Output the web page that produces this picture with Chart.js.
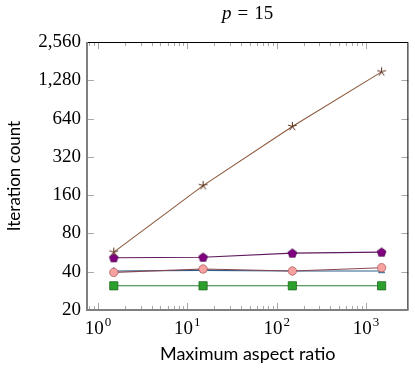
<!DOCTYPE html>
<html>
<head>
<meta charset="utf-8">
<script src="https://cdn.jsdelivr.net/npm/chart.js@4"></script>
<style>
  html, body { margin: 0; padding: 0; background: #fff; }
  #wrap { width: 415px; height: 370px; }
</style>
</head>
<body>
<div id="wrap"><canvas id="chart" width="415" height="370"></canvas></div>
<script>
// data
const aspectRatios = [1.5, 15, 150, 1500];
const seriesStar = [57, 190, 555, 1490];
const seriesPentagon = [51.5, 52, 56, 57];
const seriesCircle = [39.5, 42, 40.5, 43];
const seriesTriangle = [40.5, 41, 40.5, 40.5];
const seriesSquare = [31, 31, 31, 31];

const yTicks = [20, 40, 80, 160, 320, 640, 1280, 2560];
const xMajor = [1, 10, 100, 1000];
const xExponents = ['0', '1', '2', '3'];
const xMinor = [0.8, 0.9, 2, 3, 4, 5, 6, 7, 8, 9, 20, 30, 40, 50, 60, 70, 80, 90, 200, 300, 400, 500, 600, 700, 800, 900];

const serif = '"Liberation Serif", "DejaVu Serif", serif';
const sans = 'Lato, "Noto Sans", sans-serif';

// marker images
function makeStar(color) {
  const c = document.createElement('canvas');
  c.width = 11; c.height = 11;
  const g = c.getContext('2d');
  g.strokeStyle = color; g.lineWidth = 1;
  g.beginPath();
  for (let i = 0; i < 5; i++) {
    const a = -Math.PI / 2 + i * 2 * Math.PI / 5;
    g.moveTo(5.5, 5.5);
    g.lineTo(5.5 + 4.6 * Math.cos(a), 5.5 + 4.6 * Math.sin(a));
  }
  g.stroke();
  return c;
}
function makePentagon(fill, stroke) {
  const c = document.createElement('canvas');
  c.width = 11; c.height = 11;
  const g = c.getContext('2d');
  g.fillStyle = fill; g.strokeStyle = stroke; g.lineWidth = 0.8;
  g.beginPath();
  for (let i = 0; i < 5; i++) {
    const a = -Math.PI / 2 + i * 2 * Math.PI / 5;
    const px = 5.5 + 4.6 * Math.cos(a), py = 5.8 + 4.6 * Math.sin(a);
    if (i === 0) g.moveTo(px, py); else g.lineTo(px, py);
  }
  g.closePath(); g.fill(); g.stroke();
  return c;
}

function pts(ys) { return aspectRatios.map((x, i) => ({ x: x, y: ys[i] })); }

// axis frame, inward ticks, x labels and title
const framePlugin = {
  id: 'frame',
  afterDraw(chart) {
    const { ctx, chartArea: a, scales } = chart;
    const xs = scales.x, ys = scales.y;
    ctx.save();
    // ticks
    ctx.strokeStyle = '#a8a8a8';
    ctx.lineWidth = 1;
    ctx.beginPath();
    yTicks.forEach(v => {
      const y = Math.round(ys.getPixelForValue(v)) + 0.5;
      ctx.moveTo(a.left, y); ctx.lineTo(a.left + 7, y);
      ctx.moveTo(a.right, y); ctx.lineTo(a.right - 7, y);
    });
    xMajor.forEach(v => {
      const x = Math.round(xs.getPixelForValue(v)) + 0.5;
      ctx.moveTo(x, a.bottom); ctx.lineTo(x, a.bottom - 7);
      ctx.moveTo(x, a.top); ctx.lineTo(x, a.top + 7);
    });
    xMinor.forEach(v => {
      const x = Math.round(xs.getPixelForValue(v)) + 0.5;
      ctx.moveTo(x, a.bottom); ctx.lineTo(x, a.bottom - 4);
      ctx.moveTo(x, a.top); ctx.lineTo(x, a.top + 4);
    });
    ctx.stroke();
    // frame: top/right thin black, left/bottom thick grey
    ctx.strokeStyle = '#000';
    ctx.lineWidth = 1;
    ctx.beginPath();
    ctx.moveTo(a.left, a.top + 0.5); ctx.lineTo(a.right - 0.5, a.top + 0.5);
    ctx.lineTo(a.right - 0.5, a.bottom);
    ctx.stroke();
    ctx.strokeStyle = '#808080';
    ctx.lineWidth = 2;
    ctx.beginPath();
    ctx.moveTo(a.left, a.top); ctx.lineTo(a.left, a.bottom);
    ctx.lineTo(a.right, a.bottom);
    ctx.stroke();
    // x tick labels 10^k
    ctx.fillStyle = '#000';
    ctx.textBaseline = 'alphabetic';
    xMajor.forEach((v, i) => {
      const x = xs.getPixelForValue(v);
      ctx.font = '19px ' + serif;
      const wb = ctx.measureText('10').width;
      ctx.font = '13px ' + serif;
      const we = ctx.measureText(xExponents[i]).width;
      const left = x - (wb + we + 1) / 2;
      ctx.font = '19px ' + serif;
      ctx.textAlign = 'left';
      ctx.fillText('10', left, 334);
      ctx.font = '13px ' + serif;
      ctx.fillText(xExponents[i], left + wb + 1, 326);
    });
    // title p = 15 (math spacing around "=")
    const gap = 6;
    ctx.font = 'italic 19px ' + serif;
    const wp = ctx.measureText('p').width;
    ctx.font = '19px ' + serif;
    const we2 = ctx.measureText('=').width;
    const wn = ctx.measureText('15').width;
    const cx = (a.left + a.right) / 2;
    let tx = cx - (wp + we2 + wn + 2 * gap) / 2;
    ctx.textAlign = 'left';
    ctx.font = 'italic 19px ' + serif;
    ctx.fillText('p', tx, 19);
    tx += wp + gap;
    ctx.font = '19px ' + serif;
    ctx.fillText('=', tx, 19);
    tx += we2 + gap;
    ctx.fillText('15', tx, 19);
    ctx.restore();
  }
};

const ctx = document.getElementById('chart').getContext('2d');
const chart = new Chart(ctx, {
  type: 'line',
  data: {
    datasets: [{
      label: 'star',
      data: pts(seriesStar),
      borderColor: '#8c5a3c',
      borderWidth: 1.1,
      pointStyle: makeStar('#5a2d1a'),
      pointRadius: 5
    }, {
      label: 'pentagon',
      data: pts(seriesPentagon),
      borderColor: '#5e1a5e',
      borderWidth: 1.1,
      pointStyle: makePentagon('#800080', '#4a004a'),
      pointRadius: 5
    }, {
      label: 'circle',
      data: pts(seriesCircle),
      borderColor: '#8a4650',
      borderWidth: 1.1,
      pointStyle: 'circle',
      pointRadius: 4.2,
      pointBackgroundColor: '#f7a1a1',
      pointBorderColor: '#b06060',
      pointBorderWidth: 0.8
    }, {
      label: 'triangle',
      data: pts(seriesTriangle),
      borderColor: '#2b5f8a',
      borderWidth: 1.1,
      pointStyle: 'triangle',
      pointRadius: 3.5,
      pointBackgroundColor: '#4a7fb0',
      pointBorderColor: '#2b5f8a',
      pointBorderWidth: 0.8
    }, {
      label: 'square',
      data: pts(seriesSquare),
      borderColor: '#2e7d32',
      borderWidth: 1.1,
      pointStyle: 'rect',
      pointRadius: 5.8,
      pointBackgroundColor: '#2ca02c',
      pointBorderColor: '#1f6a1f',
      pointBorderWidth: 0.8
    }]
  },
  options: {
    responsive: false,
    animation: false,
    layout: { padding: { top: 42, right: 1, left: 0, bottom: 0 } },
    plugins: { legend: { display: false }, tooltip: { enabled: false } },
    elements: { line: { tension: 0 } },
    scales: {
      x: {
        type: 'logarithmic',
        min: Math.pow(10, -0.124),
        max: Math.pow(10, 3.476),
        grid: { display: false, drawTicks: false },
        border: { display: false },
        ticks: { display: false },
        title: {
          display: true,
          text: 'Maximum aspect ratio',
          font: { family: sans, size: 18 },
          color: '#000',
          padding: { top: 0, bottom: 5 }
        },
        afterFit(scale) { scale.height = 60; }
      },
      y: {
        type: 'logarithmic',
        min: 20,
        max: 2560,
        grid: { display: false, drawTicks: false },
        border: { display: false },
        afterBuildTicks(scale) { scale.ticks = yTicks.map(v => ({ value: v })); },
        ticks: {
          padding: 6,
          color: '#000',
          font: { family: serif, size: 19 },
          callback: v => v.toLocaleString('en-US')
        },
        title: {
          display: true,
          text: 'Iteration count',
          font: { family: sans, size: 17 },
          color: '#000',
          padding: { top: 4, bottom: 0 }
        },
        afterFit(scale) { scale.width = 87; }
      }
    }
  },
  plugins: [framePlugin]
});
</script>
</body>
</html>
